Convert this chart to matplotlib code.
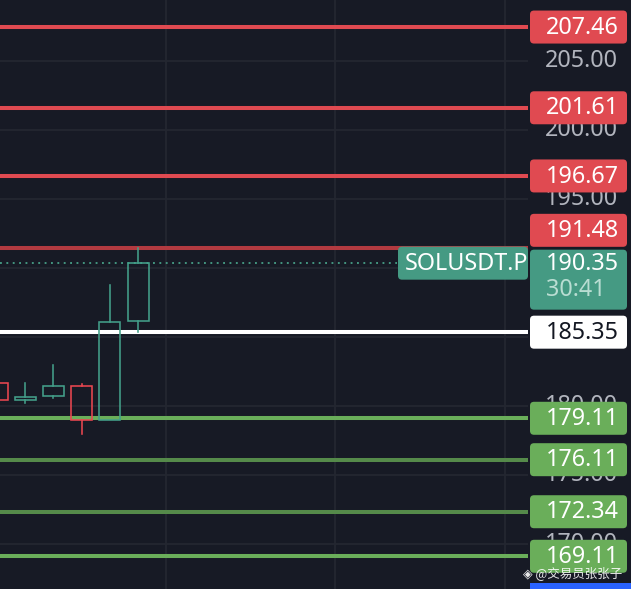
import numpy as np
import matplotlib
matplotlib.use("Agg")
import matplotlib.pyplot as plt
from matplotlib.patches import FancyBboxPatch

# candles (hollow style), oldest first
opens = [181.70, 180.43, 180.75, 181.47, 179.01, 186.18]
closes = [180.41, 180.67, 181.47, 179.01, 186.11, 190.35]
highs = [181.70, 181.64, 182.97, 181.57, 188.77, 191.43]
lows = [180.41, 180.24, 180.56, 177.99, 179.01, 185.38]

# drawn levels
levels = [207.46, 201.61, 196.67, 191.48, 185.35, 179.11, 176.11, 172.34, 169.11]
level_colors = ['#e04a51', '#e04a51', '#e04a51', '#b23a40', '#ffffff',
                '#6aae5a', '#558a4a', '#558a4a', '#6aae5a']
label_colors = ['#e04a51', '#e04a51', '#e04a51', '#e04a51', '#ffffff',
                '#6aae5a', '#6aae5a', '#6aae5a', '#6aae5a']
label_shift = [0, 0, 0, 1.25, 0, 0, 0, 0, 0]   # label pushed up to avoid overlap

last_price = 190.35
countdown = '30:41'
symbol = 'SOLUSDT.P'
scale_ticks = [170, 175, 180, 185, 190, 195, 200, 205, 210]

BG = '#171a25'
GRID = '#242731'
UP = '#43a08a'
DOWN = '#ea4650'
TEAL = '#459a83'

W, H = 631, 589
ymin, ymax = 166.74, 209.42
plot_w = 528

fig = plt.figure(figsize=(W / 100, H / 100), dpi=100, facecolor=BG)
ax = fig.add_axes([0, 0, plot_w / W, 1])
ax.set_facecolor(BG)
ax.set_xticks([0, 6, 12, 18])
ax.set_yticks(scale_ticks)
ax.set_xlim(0.106, 18.83)
ax.set_ylim(ymin, ymax)
ax.grid(True, color=GRID, lw=1.3)
ax.tick_params(length=0, labelleft=False, labelbottom=False)
for s in ax.spines.values():
    s.set_visible(False)

# candles
bw = 0.745
for i, (o, c, h, l) in enumerate(zip(opens, closes, highs, lows)):
    col = UP if c >= o else DOWN
    top, bot = max(o, c), min(o, c)
    ax.add_patch(plt.Rectangle((i - bw / 2, bot), bw, top - bot, fill=False,
                               edgecolor=col, lw=1.15, zorder=4))
    if h > top:
        ax.plot([i, i], [top, h], color=col, lw=1.15, zorder=4)
    if l < bot:
        ax.plot([i, i], [l, bot], color=col, lw=1.15, zorder=4)

# level lines
for lv, col in zip(levels, level_colors):
    ax.axhline(lv, color=col, lw=2.9, zorder=3)

# last price dotted line
ax.plot([0.106, 14.2], [last_price, last_price], color=TEAL, lw=1.35,
        linestyle=(0, (1, 2.4)), zorder=3)
ax.set_xlim(0.106, 18.83)
ax.set_ylim(ymin, ymax)

# overlay in pixel x / price y for the scale labels
ov = fig.add_axes([0, 0, 1, 1], facecolor='none')
ov.set_xlim(0, W)
ov.set_ylim(ymin, ymax)
ov.axis('off')
px = (ymax - ymin) / H   # price per pixel
font = 'Noto Sans'
fs = 16.8

for t in scale_ticks:
    ov.text(618, t, f'{t:.2f}', color='#b2b5be', fontsize=fs, family=font,
            ha='right', va='center', zorder=1)


def box(x0, x1, yc, hpx, color, z=5):
    p = FancyBboxPatch((x0, yc - hpx * px / 2), x1 - x0, hpx * px,
                       boxstyle='round,pad=0,rounding_size=4',
                       mutation_aspect=px, facecolor=color, edgecolor='none',
                       zorder=z)
    ov.add_patch(p)


for lv, col, sh in zip(levels, label_colors, label_shift):
    yc = lv + sh
    box(530, 627, yc, 33, col)
    tc = '#131722' if col == '#ffffff' else 'white'
    ov.text(546, yc - 0.05, f'{lv:.2f}', color=tc, fontsize=fs, family=font,
            ha='left', va='center', zorder=6)

# last price label with countdown
box(530, 627, last_price - 16.5 * px, 60, TEAL)
ov.text(546, last_price - 0.05, f'{last_price:.2f}', color='white', fontsize=fs,
        family=font, ha='left', va='center', zorder=6)
ov.text(546, last_price - 27 * px, countdown, color='#b9ddd2', fontsize=fs,
        family=font, ha='left', va='center', zorder=6)

# symbol tag
box(398, 528, last_price, 33, TEAL)
ov.text(405, last_price - 0.05, symbol, color='white', fontsize=fs, family=font,
        ha='left', va='center', zorder=6)

# bottom strip and watermark
ov.add_patch(plt.Rectangle((530, ymin), 101, 6 * px, facecolor='#2962ff',
                           edgecolor='none', zorder=5))
ov.text(523, ymin + 16 * px, '◈ @交易员张张子', color='white', fontsize=9,
        family=['Noto Sans CJK SC', 'DejaVu Sans'], ha='left', va='center',
        zorder=7, alpha=0.9)

fig.savefig('out.png', dpi=100, facecolor=BG)
